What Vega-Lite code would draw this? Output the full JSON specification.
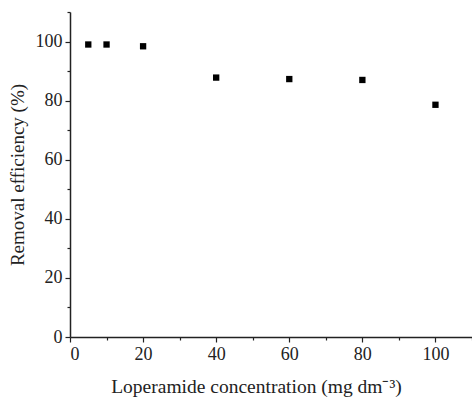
{
  "$schema": "https://vega.github.io/schema/vega-lite/v6.json",
  "width": 402,
  "height": 325,
  "autosize": "none",
  "padding": {"left": 70, "top": 12, "right": 0, "bottom": 63},
  "background": "white",
  "config": {
    "view": {"stroke": null},
    "axis": {
      "grid": false,
      "domainColor": "#222",
      "domainWidth": 1.5,
      "tickColor": "#222",
      "tickWidth": 1.2,
      "titleFont": "Liberation Serif",
      "titleFontWeight": "normal",
      "titleColor": "#222",
      "labelFont": "Liberation Serif",
      "labelFontSize": 18
    }
  },
  "data": {
    "values": [
      {"conc": 5, "eff": 99.0},
      {"conc": 10, "eff": 99.0},
      {"conc": 20, "eff": 98.4},
      {"conc": 40, "eff": 87.8},
      {"conc": 60, "eff": 87.3},
      {"conc": 80, "eff": 87.0},
      {"conc": 100, "eff": 78.6}
    ]
  },
  "mark": {"type": "square", "size": 40, "color": "black", "opacity": 1},
  "encoding": {
    "x": {
      "field": "conc",
      "type": "quantitative",
      "scale": {"domain": [0, 110], "nice": false},
      "axis": {
        "title": "Loperamide concentration (mg dm⁻³)",
        "titleFontSize": 19.5,
        "titleX": 186,
        "labelColor": "#222",
        "values": [0, 10, 20, 30, 40, 50, 60, 70, 80, 90, 100, 110],
        "labelExpr": "datum.value % 20 === 0 && datum.value <= 100 ? datum.label : ''",
        "tickSize": {"condition": {"test": "datum.value % 20 === 0", "value": 5}, "value": 3},
        "labelPadding": 3,
        "titlePadding": 14
      }
    },
    "y": {
      "field": "eff",
      "type": "quantitative",
      "scale": {"domain": [0, 110], "nice": false},
      "axis": {
        "title": "Removal efficiency (%)",
        "titleFontSize": 19,
        "labelColor": "#222",
        "values": [0, 10, 20, 30, 40, 50, 60, 70, 80, 90, 100, 110],
        "labelExpr": "datum.value % 20 === 0 && datum.value <= 100 ? datum.label : ''",
        "tickSize": {"condition": {"test": "datum.value % 20 === 0", "value": 5}, "value": 3},
        "labelPadding": 3,
        "titlePadding": 8
      }
    }
  }
}
